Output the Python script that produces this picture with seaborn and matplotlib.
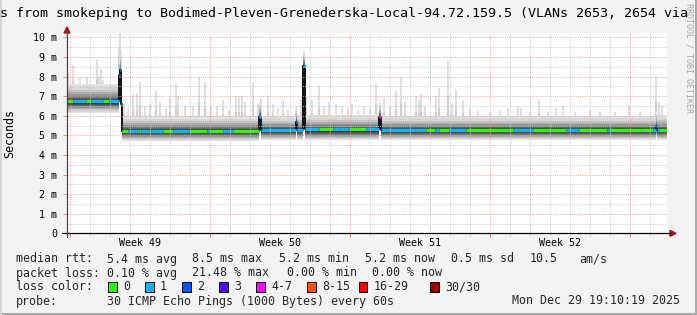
import numpy as np
import matplotlib
matplotlib.use("Agg")
import matplotlib.pyplot as plt
import matplotlib.transforms as mtransforms
from matplotlib.patches import Rectangle, Polygon
from matplotlib.lines import Line2D
import seaborn as sns

# ------------------------------------------------------------------ data
title_text = "s from smokeping to Bodimed-Pleven-Grenederska-Local-94.72.159.5 (VLANs 2653, 2654 via"
week_labels = ["Week 49", "Week 50", "Week 51", "Week 52"]
week_label_day = [3.65, 10.65, 17.65, 24.65]
week_start_day = [0.15, 7.15, 14.15, 21.15, 28.15]
ytick_vals = [0, 1, 2, 3, 4, 5, 6, 7, 8, 9, 10]
ytick_labels = ["0", "1 m", "2 m", "3 m", "4 m", "5 m", "6 m", "7 m", "8 m", "9 m", "10 m"]

# median RTT (ms) as a step series: day since graph start -> value
med_day = [0.0, 2.60, 2.65, 2.70, 2.75, 9.62, 9.68, 11.43, 11.48, 11.82, 11.90, 15.62, 15.68, 29.43, 29.50]
med_ms = [6.75, 8.10, 8.35, 6.60, 5.24, 5.93, 5.27, 5.70, 5.28, 8.53, 5.30, 5.93, 5.27, 5.45, 5.28]

# packet-loss class of the median line (step series)
loss_day = [0.0, 0.3, 0.95, 1.2, 1.8, 2.1, 2.75, 3.05, 3.6, 3.7, 4.1, 4.2, 4.8, 5.3, 6.1, 7.0, 7.1,
            7.8, 8.3, 9.6, 12.6, 13.3, 14.1, 14.95, 15.62, 15.68, 17.95, 18.4, 18.6, 19.1, 19.95,
            22.3, 23.3, 24.95, 25.6, 27.0, 27.1, 29.3, 29.6]
loss_cls = [0, 1, 0, 1, 0, 1, 0, 1, 0, 1, 0, 1, 0, 1, 0, 1, 0, 1, 0, 1, 0, 1, 0, 1, 4, 1, 0, 1, 0,
            1, 0, 1, 0, 1, 0, 1, 0, 1, 0]

legend_classes = [0, 1, 2, 3, 4, 8, 16, 30]
legend_labels = ["0", "1", "2", "3", "4-7", "8-15", "16-29", "30/30"]
loss_colors = ["#26ff00", "#00b8ff", "#0059ff", "#5e00ff", "#ff00ff", "#ff5500", "#ff0000", "#a00000"]

# smoke band around the median (ms offsets, dark core -> light edge)
smoke_up = [0.03, 0.08, 0.14, 0.21, 0.29, 0.38, 0.48, 0.60, 0.74]
smoke_dn = [0.12, 0.17, 0.22, 0.27, 0.32, 0.37, 0.42, 0.47, 0.53]
smoke_shade = ["#3a3a3a", "#4e4e4e", "#646464", "#7c7c7c", "#959595", "#adadad", "#c4c4c4",
               "#d6d6d6", "#e4e4e4"]
spread_day = [0.0, 2.75]
spread_val = [1.15, 1.0]

# individual high-ping spikes (day, top ms)
spike_day = [0.05, 0.1, 0.3, 0.45, 0.65, 0.85, 1.0, 1.2, 1.5, 1.6, 1.7, 1.8, 2.0, 2.2, 2.4, 2.6, 2.65, 2.7,
             2.85, 3.05, 3.3, 3.5, 3.65, 3.9, 4.15, 4.45, 4.65, 4.95, 5.15, 5.45, 5.55, 5.9, 6.3, 6.6,
             6.9, 7.2, 7.5, 7.8, 8.1, 8.45, 8.6, 8.75, 8.9, 9.3, 9.55, 9.7, 10.05, 10.3, 10.55, 10.8,
             11.05, 11.45, 11.7, 11.85, 11.95, 12.25, 12.6, 12.85, 13.1, 13.45, 13.75, 14.05, 14.25,
             14.55, 14.85, 15.15, 15.45, 15.65, 15.85, 16.15, 16.45, 16.7, 16.9, 17.45, 17.6, 17.7,
             17.9, 18.45, 18.6, 19.05, 19.25, 19.45, 19.8, 20.15, 20.55, 21.15, 21.65, 22.05, 22.55,
             22.7, 23.15, 23.6, 24.05, 24.45, 24.8, 25.4, 26.15, 26.65, 27.4, 28.1, 28.65, 29.45,
             29.6, 29.75]
spike_ms = [8.2, 7.6, 8.6, 7.5, 7.9, 7.4, 8.0, 7.3, 8.9, 8.0, 8.4, 7.8, 7.6, 7.4, 7.6, 9.6, 10.2, 9.3,
            6.6, 6.4, 7.1, 7.15, 7.7, 6.5, 6.6, 7.3, 6.7, 6.4, 6.9, 7.6, 7.0, 6.5, 6.5, 8.0,
            7.7, 6.5, 6.5, 6.8, 6.3, 7.0, 7.0, 7.0, 6.7, 7.7, 6.6, 6.9, 7.0, 6.6, 6.4, 6.8,
            6.3, 6.3, 6.9, 9.0, 7.0, 6.8, 7.5, 6.5, 6.7, 6.6, 6.5, 6.4, 6.6,
            6.3, 6.5, 6.4, 7.6, 6.4, 6.9, 6.5, 7.3, 8.0, 6.7, 7.0, 6.8, 7.1,
            6.5, 7.0, 7.4, 8.8, 6.6, 7.3, 6.8, 6.4, 6.3, 6.2, 6.3, 6.4, 6.5,
            6.4, 6.2, 6.8, 6.2, 6.4, 6.5, 6.2, 6.3, 6.2, 6.2, 6.5, 6.2, 8.0,
            6.7, 6.5]

rtt_label = "median rtt:"
rtt_items = ["5.4 ms avg", "8.5 ms max", "5.2 ms min", "5.2 ms now", "0.5 ms sd", "10.5", "am/s"]
loss_label = "packet loss:"
loss_items = ["0.10 % avg", "21.48 % max", "0.00 % min", "0.00 % now"]
color_label = "loss color:"
probe_label = "probe:"
probe_text = "30 ICMP Echo Pings (1000 Bytes) every 60s"
date_text = "Mon Dec 29 19:10:19 2025"
watermark = "RRDTOOL / TOBI OETIKER"

# ------------------------------------------------------------------ style
sns.set_theme(style="white")
plt.rcParams["font.family"] = ["DejaVu Sans Mono", "DejaVu Sans"]

W, H = 697, 315
def fx(x):
    return x / W
def fy(y):
    return 1 - y / H

fig = plt.figure(figsize=(W / 100, H / 100), dpi=100, facecolor="#f3f3f3")
ax = fig.add_axes([fx(67), fy(233.3), 600 / W, 200.3 / H])
ax.set_facecolor("white")
ax.set_xlim(0, 30)
ax.set_ylim(0, 10.22)

# step helpers
d_ext = np.array(med_day + [30.0])
m_ext = np.array(med_ms + [med_ms[-1]])
def step_lookup(xs, keys, vals):
    idx = np.searchsorted(np.array(keys), np.asarray(xs), side="right") - 1
    return np.array(vals)[np.clip(idx, 0, len(vals) - 1)]
s_ext = step_lookup(d_ext, spread_day, spread_val)

# spikes (behind the smoke)
sp_d = np.array(spike_day)
sp_top = np.array(spike_ms)
sp_med = step_lookup(sp_d, med_day, med_ms)
sp_base = sp_med + 0.3
ax.vlines(sp_d, sp_base, sp_top, colors="#e0e0e0", lw=1.5, zorder=1)
ax.vlines(sp_d, sp_base, sp_base + 0.45 * (sp_top - sp_base), colors="#d0d0d0", lw=1.5, zorder=1.1)
ax.vlines(sp_d, sp_base, sp_base + 0.15 * (sp_top - sp_base), colors="#bdbdbd", lw=1.5, zorder=1.2)

# smoke bands
for i in range(len(smoke_up) - 1, -1, -1):
    ax.fill_between(d_ext, m_ext - smoke_dn[i] * s_ext, m_ext + smoke_up[i] * s_ext,
                    step="post", color=smoke_shade[i], lw=0, zorder=2)

# median line (black connectors) via seaborn
sns.lineplot(x=d_ext, y=m_ext, drawstyle="steps-post", color="#111111", linewidth=1.4,
             ax=ax, zorder=3, sort=False, estimator=None, legend=False)

# coloured median segments by loss class
bps = sorted(set(med_day + loss_day + [30.0]))
t0 = np.array(bps[:-1])
t1 = np.array(bps[1:])
seg_ms = step_lookup(t0, med_day, med_ms)
seg_cls = step_lookup(t0, loss_day, loss_cls)
cls_to_col = dict(zip(legend_classes, loss_colors))
seg_col = [cls_to_col[int(c)] for c in seg_cls]
ax.hlines(seg_ms, t0, t1, colors=seg_col, lw=2.2, zorder=4)

# grid (drawn over the data, like rrdtool)
dot = (0, (1, 1))
for k in range(30):
    xd = week_start_day[0] + k
    if xd >= 30:
        break
    if any(abs(xd - w) < 1e-6 for w in week_start_day):
        continue
    ax.axvline(xd, color="#c8c8c8", lw=0.75, ls=dot, zorder=5, alpha=0.85)
for w in week_start_day:
    ax.axvline(w, color="#ec9a9a", lw=0.75, ls=dot, zorder=5, alpha=0.75)
for v in np.arange(0.5, 10.5, 1.0):
    ax.axhline(v, color="#c8c8c8", lw=0.75, ls=dot, zorder=5, alpha=0.85)
for v in ytick_vals[1:]:
    ax.axhline(v, color="#ec9a9a", lw=0.75, ls=dot, zorder=5, alpha=0.75)

# spines / ticks
for s in ["top", "right"]:
    ax.spines[s].set_visible(False)
ax.spines["left"].set_color("#444444")
ax.spines["left"].set_linewidth(0.8)
ax.spines["bottom"].set_color("#000000")
ax.spines["bottom"].set_linewidth(0.8)
ax.spines["left"].set_zorder(6)
ax.spines["bottom"].set_zorder(6)

ax.set_yticks(ytick_vals)
ax.set_yticklabels(ytick_labels, fontsize=7.2, color="#000000")
ax.tick_params(axis="y", which="major", length=3, width=0.7, color="#e09090", pad=4.2, left=True)
ax.set_xticks(week_start_day)
ax.set_xticklabels([""] * len(week_start_day))
ax.set_xticks([week_start_day[0] + k for k in range(30) if week_start_day[0] + k < 30], minor=True)
ax.tick_params(axis="x", which="major", length=3, width=0.7, color="#e08080", bottom=True)
ax.tick_params(axis="x", which="minor", length=2, width=0.6, color="#cccccc", bottom=True)
ax.set_xlabel("")
ax.set_ylabel("")

trans = mtransforms.blended_transform_factory(ax.transData, ax.transAxes)
for d, lab in zip(week_label_day, week_labels):
    ax.text(d, -(242.5 - 233.3) / 200.3, lab, transform=trans, ha="center", va="center",
            fontsize=7.2, color="#000000")

# axis extensions and arrows
arrow_col = "#9e1b1b"
fig.add_artist(Line2D([fx(62), fx(671)], [fy(233.3), fy(233.3)], color="#000000", lw=0.8))
fig.add_artist(Line2D([fx(67), fx(67)], [fy(237), fy(30)], color="#444444", lw=0.8))
fig.add_artist(Polygon([[fx(676), fy(233.3)], [fx(670), fy(230.3)], [fx(670), fy(236.3)]],
                       closed=True, color=arrow_col, transform=fig.transFigure))
fig.add_artist(Polygon([[fx(67), fy(27)], [fx(64), fy(33)], [fx(70), fy(33)]],
                       closed=True, color=arrow_col, transform=fig.transFigure))

# y axis title
fig.text(fx(10), fy(133), "Seconds", rotation=90, ha="center", va="center", fontsize=8.4,
         color="#000000")

# title
fig.text(fx(0.5), fy(14), title_text, ha="left", va="center", fontsize=9.6, color="#000000")

# watermark
fig.text(fx(689), fy(3), watermark, rotation=270, ha="center", va="top", fontsize=6,
         color="#a8a8a8")

# legend block
fs = 8.4
fig.text(fx(15.5), fy(259), rtt_label, ha="left", va="center", fontsize=fs)
for xpos, t in zip([107, 192, 279, 365, 451, 530, 579], rtt_items):
    fig.text(fx(xpos), fy(259), t, ha="left", va="center", fontsize=fs)
fig.text(fx(15.5), fy(273), loss_label, ha="left", va="center", fontsize=fs)
for xpos, t in zip([107, 192, 287, 372], loss_items):
    fig.text(fx(xpos), fy(273), t, ha="left", va="center", fontsize=fs)
fig.text(fx(15.5), fy(287), color_label, ha="left", va="center", fontsize=fs)
box_x = [108, 145, 182, 219, 256, 307, 359, 430]
for bx, col, lab in zip(box_x, loss_colors, legend_labels):
    fig.add_artist(Rectangle((fx(bx), fy(292)), 8.5 / W, 10 / H, facecolor=col,
                             edgecolor="#000000", lw=0.7, transform=fig.transFigure))
    fig.text(fx(bx + 15), fy(287), lab, ha="left", va="center", fontsize=fs)
fig.text(fx(15.5), fy(301), probe_label, ha="left", va="center", fontsize=fs)
fig.text(fx(107), fy(301), probe_text, ha="left", va="center", fontsize=fs)
fig.text(fx(680), fy(301), date_text, ha="right", va="center", fontsize=fs)

# frame shading of the rrdtool canvas
fig.add_artist(Rectangle((fx(694.5), 0), 2.5 / W, 1, facecolor="#a9a9a9", lw=0,
                         transform=fig.transFigure))
fig.add_artist(Rectangle((0, 0), 1, 2.5 / H, facecolor="#a9a9a9", lw=0,
                         transform=fig.transFigure))
fig.add_artist(Rectangle((0, 0), 1.5 / W, 1, facecolor="#d4d4d4", lw=0,
                         transform=fig.transFigure))

fig.savefig("out.png", dpi=100, facecolor=fig.get_facecolor())
